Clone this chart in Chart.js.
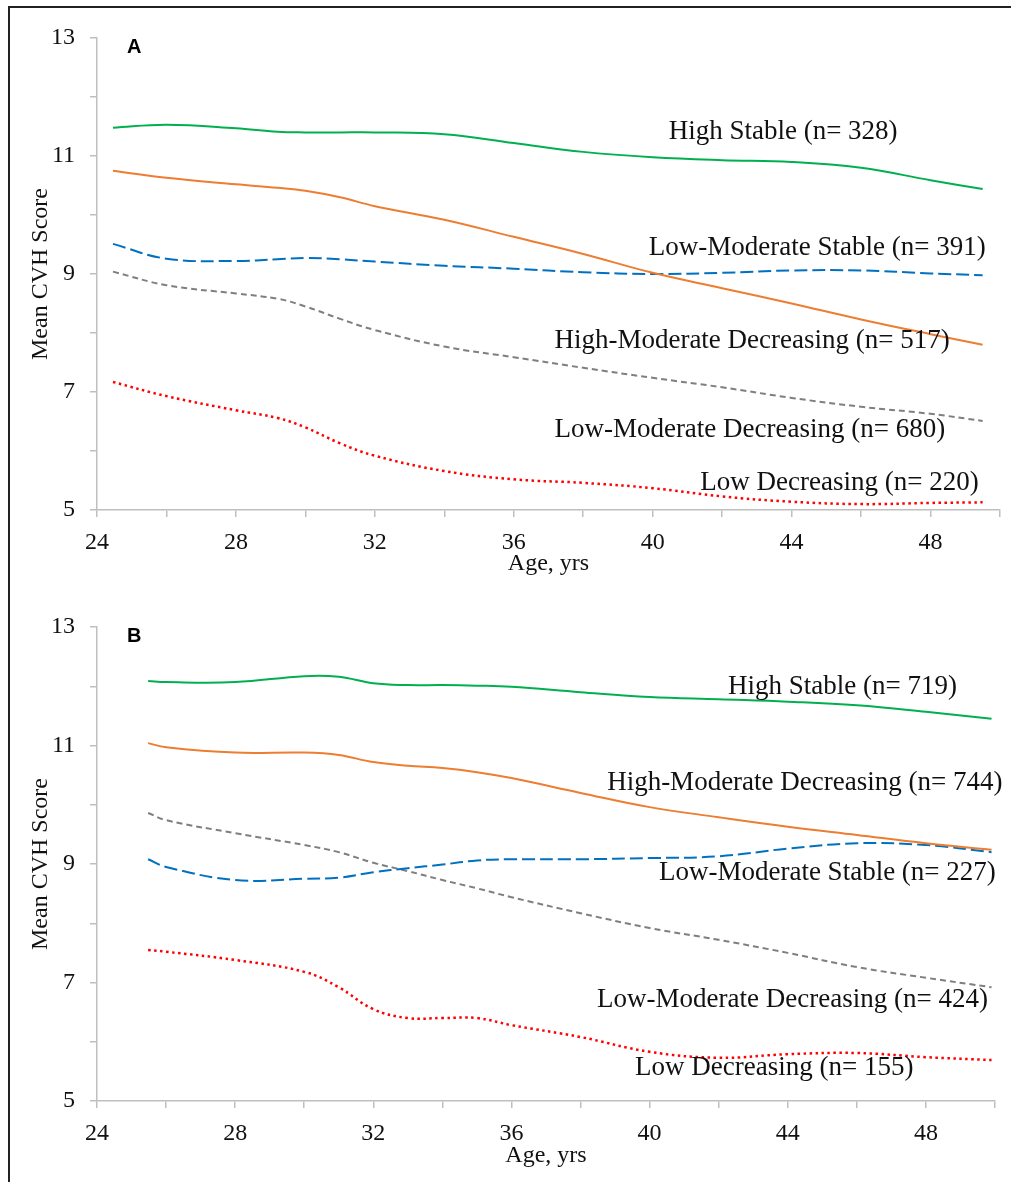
<!DOCTYPE html>
<html>
<head>
<meta charset="utf-8">
<script src="https://cdn.jsdelivr.net/npm/chart.js@4.4.1/dist/chart.umd.min.js"></script>
<style>
  html, body { margin: 0; padding: 0; background: #fff; }
  body { width: 1011px; height: 1182px; position: relative; overflow: hidden; }
  .frame { position: absolute; left: 8px; top: 6px; right: -10px; bottom: -10px;
           border-left: 2px solid #222; border-top: 2px solid #222; }
  .panel { position: absolute; left: 0; width: 1011px; }
  #boxA { top: 0; height: 590px; }
  #boxB { top: 590px; height: 592px; }
</style>
</head>
<body>
<div class="frame"></div>
<div class="panel" id="boxA"><canvas id="chartA"></canvas></div>
<div class="panel" id="boxB"><canvas id="chartB"></canvas></div>
<script>
// ---- panel A data (ages in years, mean CVH score) ----
const agesA = [24.46, 26, 28, 29.2, 30, 31, 32, 34, 36, 38, 40, 42, 44, 46, 48, 49.5];
const highStableA      = [11.48, 11.53, 11.47, 11.41, 11.40, 11.40, 11.40, 11.37, 11.22, 11.07, 10.98, 10.93, 10.90, 10.80, 10.59, 10.44];
const highModDecA      = [10.75, 10.63, 10.52, 10.46, 10.41, 10.30, 10.15, 9.92, 9.63, 9.34, 9.02, 8.76, 8.50, 8.23, 7.98, 7.80];
const lowModStableA    = [9.51, 9.26, 9.22, 9.25, 9.27, 9.25, 9.21, 9.14, 9.09, 9.03, 9.00, 9.02, 9.06, 9.06, 9.01, 8.98];
const lowModDecA       = [9.04, 8.81, 8.67, 8.58, 8.45, 8.24, 8.05, 7.77, 7.59, 7.41, 7.24, 7.08, 6.90, 6.75, 6.63, 6.51];
const lowDecA          = [7.17, 6.93, 6.69, 6.56, 6.40, 6.13, 5.92, 5.66, 5.52, 5.46, 5.37, 5.23, 5.14, 5.10, 5.12, 5.13];
const namesA = ['High Stable (n= 328)', 'High-Moderate Decreasing (n= 517)', 'Low-Moderate Stable (n= 391)',
                'Low-Moderate Decreasing (n= 680)', 'Low Decreasing (n= 220)'];

// ---- panel B data ----
const agesB = [25.48, 26, 28, 30, 31, 32, 33, 34, 35, 36, 38, 40, 42, 44, 46, 48, 49.9];
const highStableB      = [12.09, 12.07, 12.07, 12.17, 12.16, 12.05, 12.02, 12.02, 12.01, 11.99, 11.90, 11.82, 11.78, 11.74, 11.68, 11.57, 11.45];
const highModDecB      = [11.04, 10.97, 10.88, 10.88, 10.84, 10.72, 10.66, 10.62, 10.55, 10.45, 10.20, 9.96, 9.79, 9.63, 9.49, 9.35, 9.24];
const lowModStableB    = [9.08, 8.95, 8.73, 8.75, 8.77, 8.86, 8.93, 8.99, 9.06, 9.08, 9.08, 9.10, 9.13, 9.26, 9.35, 9.32, 9.20];
const lowModDecB       = [9.86, 9.74, 9.52, 9.32, 9.20, 9.02, 8.88, 8.73, 8.59, 8.44, 8.17, 7.92, 7.72, 7.50, 7.26, 7.08, 6.92];
const lowDecB          = [7.55, 7.52, 7.38, 7.18, 6.92, 6.55, 6.40, 6.40, 6.40, 6.28, 6.08, 5.83, 5.73, 5.79, 5.81, 5.74, 5.69];
const namesB = ['High Stable (n= 719)', 'High-Moderate Decreasing (n= 744)', 'Low-Moderate Stable (n= 227)',
                'Low-Moderate Decreasing (n= 424)', 'Low Decreasing (n= 155)'];

// where each series name is written (data units: age, score)
const labelPosA = [[40.46, 11.41], [37.17, 7.86], [39.89, 9.44], [37.17, 6.36], [41.37, 5.46]];
const labelPosB = [[42.27, 11.99], [38.77, 10.37], [40.27, 8.85], [38.48, 6.70], [39.58, 5.56]];

const serif = "'Liberation Serif', 'Times New Roman', serif";
const styles = [
  { color: '#00b050', dash: [] },
  { color: '#ed7d31', dash: [] },
  { color: '#0070c0', dash: [13, 5] },
  { color: '#7f7f7f', dash: [6, 4] },
  { color: '#ff0000', dash: [2.5, 3.5], width: 2.5 }
];

function makeChart(id, ages, seriesList, names, labelPos, letter, geo) {
  // 文字ラベルを線の近くに描く
  const textPlugin = {
    id: 'textLabels' + letter,
    afterDatasetsDraw(chart) {
      const c = chart.ctx;
      const xs = chart.scales.x, ys = chart.scales.y;
      c.save();
      c.fillStyle = '#111';
      c.font = '27px ' + serif;
      c.textBaseline = 'middle';
      c.textAlign = 'left';
      names.forEach((n, i) => {
        c.fillText(n, xs.getPixelForValue(labelPos[i][0]), ys.getPixelForValue(labelPos[i][1]));
      });
      c.font = "bold 20px 'Liberation Sans', Arial, sans-serif";
      c.fillStyle = '#000';
      c.fillText(letter, chart.chartArea.left + 30, chart.chartArea.top + 9);
      c.restore();
    }
  };

  return new Chart(document.getElementById(id), {
    type: 'line',
    data: {
      datasets: seriesList.map((vals, i) => ({
        label: names[i],
        data: vals.map((v, k) => ({ x: ages[k], y: v })),
        borderColor: styles[i].color,
        borderWidth: styles[i].width || 2,
        borderDash: styles[i].dash,
        pointRadius: 0,
        tension: 0.4,
        fill: false
      }))
    },
    options: {
      responsive: true,
      maintainAspectRatio: false,
      animation: false,
      layout: { padding: { top: geo.top, right: geo.right, left: 0, bottom: 0 } },
      plugins: { legend: { display: false }, tooltip: { enabled: false } },
      scales: {
        x: {
          type: 'linear', min: 24, max: 50,
          afterFit: (s) => { s.height = geo.xh; },
          border: { color: '#bfbfbf', width: 1.5 },
          grid: { drawOnChartArea: false, drawTicks: true, tickLength: 7, color: '#bfbfbf', lineWidth: 1.5 },
          ticks: {
            stepSize: 2, autoSkip: false, maxRotation: 0, padding: 11, color: '#111',
            font: { family: serif, size: 24 },
            callback: (v) => ((v - 24) % 4 === 0 && v < 50 ? v : '')
          },
          title: { display: true, text: 'Age, yrs', color: '#111', font: { family: serif, size: 24 }, padding: { bottom: 12, top: 0 } }
        },
        y: {
          min: 5, max: 13,
          afterFit: (s) => { s.width = 97; },
          border: { color: '#bfbfbf', width: 1.5 },
          grid: { drawOnChartArea: false, drawTicks: true, tickLength: 7, color: '#bfbfbf', lineWidth: 1.5 },
          ticks: {
            stepSize: 1, autoSkip: false, padding: 15, color: '#111',
            font: { family: serif, size: 24 },
            callback: (v) => (v % 2 === 1 ? v : '')
          },
          title: { display: true, text: 'Mean CVH Score', color: '#111', font: { family: serif, size: 24 }, padding: { top: 26, bottom: 0 } }
        }
      }
    },
    plugins: [textPlugin]
  });
}

makeChart('chartA', agesA, [highStableA, highModDecA, lowModStableA, lowModDecA, lowDecA], namesA, labelPosA, 'A',
  { top: 38, right: 4, xh: 80 });
makeChart('chartB', agesB, [highStableB, highModDecB, lowModStableB, lowModDecB, lowDecB], namesB, labelPosB, 'B',
  { top: 37, right: 16, xh: 81 });
</script>
</body>
</html>
